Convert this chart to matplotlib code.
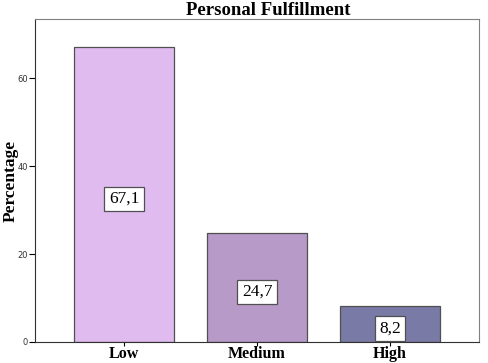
import matplotlib
matplotlib.use("Agg")
import matplotlib.pyplot as plt

categories = ["Low", "Medium", "High"]
percentages = [67.1, 24.7, 8.2]
value_labels = ["67,1", "24,7", "8,2"]
bar_colors = ["#dfbbef", "#b89ac8", "#7a7aa6"]
yticks = [0, 20, 40, 60]

fig = plt.figure(figsize=(4.88, 3.63), dpi=100)
ax = fig.add_axes([0.0717, 0.0579, 0.9099, 0.8898])

x = range(len(categories))
bars = ax.bar(x, percentages, width=0.752, color=bar_colors, edgecolor="#505050", linewidth=0.9)

for b, lab in zip(bars, value_labels):
    ax.text(b.get_x() + b.get_width() / 2, b.get_height() / 2 - 1, lab,
            ha="center", va="center", fontsize=12.5, family="Liberation Serif",
            bbox=dict(boxstyle="square,pad=0.25", fc="white", ec="#505050", lw=0.9))

ax.set_xlim(-0.669, 2.669)
ax.set_ylim(0, 73.5)
ax.set_xticks(list(x))
ax.set_xticklabels(categories, fontsize=11.5, fontweight="bold", family="Liberation Serif")
ax.set_yticks(yticks)
ax.set_yticklabels([str(t) for t in yticks], fontsize=6, color="#333333")
ax.tick_params(axis="y", length=4, width=0.8, pad=1)
ax.tick_params(axis="x", length=3, width=0.8, pad=0)
ax.set_ylabel("Percentage", fontsize=12.5, fontweight="bold", family="Liberation Serif")
ax.yaxis.set_label_coords(-0.036, 0.5)
ax.set_title("Personal Fulfillment", fontsize=13.5, fontweight="bold", family="Liberation Serif", pad=2, x=0.525)

for side in ["top", "right"]:
    ax.spines[side].set_color("#808080")
for side in ["left", "bottom"]:
    ax.spines[side].set_color("#303030")

fig.savefig("out.png", dpi=100)
